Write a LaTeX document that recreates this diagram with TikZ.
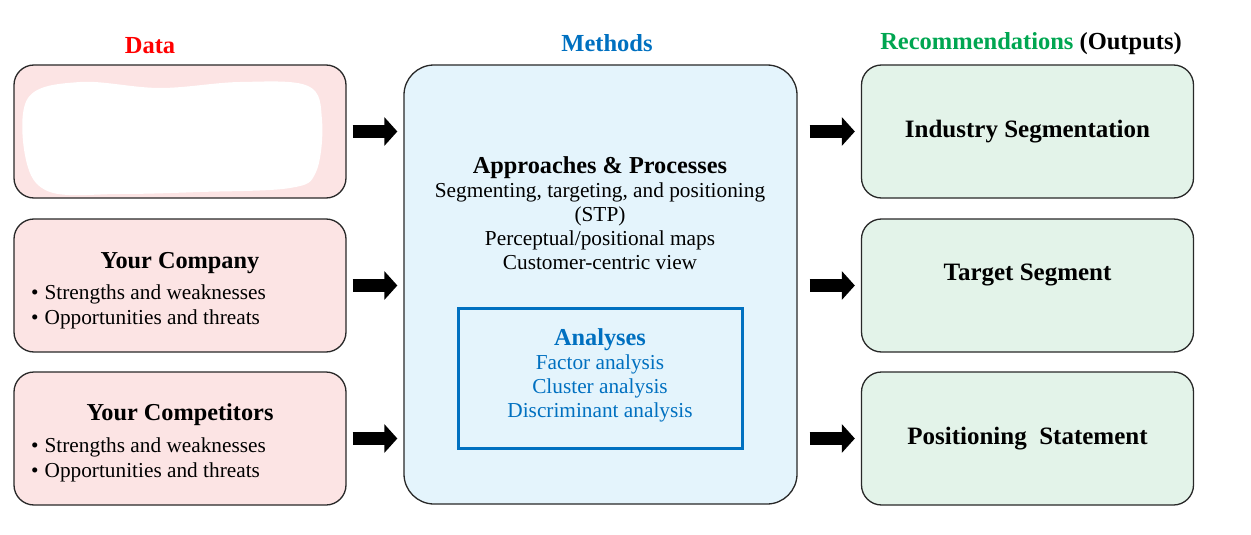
\documentclass[tikz,border=0pt]{standalone}
\usepackage{fontspec}
\setmainfont{Liberation Serif}
\usetikzlibrary{arrows.meta,calc}
\definecolor{pinkfill}{RGB}{252,228,228}
\definecolor{bluefill}{RGB}{228,244,252}
\definecolor{greenfill}{RGB}{227,243,233}
\definecolor{mblue}{RGB}{0,112,192}
\definecolor{dred}{RGB}{255,0,0}
\definecolor{rgreen}{RGB}{0,166,81}
\definecolor{edge}{RGB}{40,40,40}
\tikzset{
  box/.style={draw=edge, line width=1.3pt, rounded corners=20pt, minimum width=332pt, minimum height=133pt, inner sep=0pt},
  databox/.style={box, fill=pinkfill},
  outbox/.style={box, fill=greenfill},
  otxt/.style={inner sep=0pt, anchor=base, font=\fontsize{25}{28}\selectfont\bfseries},
  methbox/.style={draw=edge, line width=1.3pt, rounded corners=30pt, fill=bluefill, minimum width=393pt, minimum height=439pt, inner sep=0pt},
  anbox/.style={draw=mblue, line width=3pt, minimum width=284pt, minimum height=140pt, inner sep=0pt},
  txt/.style={inner sep=0pt, anchor=base, font=\fontsize{21.3}{24}\selectfont},
  ltxt/.style={txt, anchor=base west},
  ttl/.style={inner sep=0pt, anchor=base, font=\fontsize{24.3}{28}\selectfont\bfseries},
  hdr/.style={inner sep=0pt, anchor=base, font=\fontsize{24.5}{28}\selectfont\bfseries},
  bigarrow/.style={line width=13pt, -{Triangle[length=13pt,width=28pt]}},
}
\begin{document}
\begin{tikzpicture}[x=1pt,y=-1pt]
\useasboundingbox (0,0) rectangle (1251,535);
% headers
\node[hdr, text=dred] (hdata) at (150,54) {Data};
\node[hdr, text=mblue] (hmeth) at (607,52) {Methods};
\node[hdr] (hrec) at (1031,50) {\textcolor{rgreen}{Recommendations} (Outputs)};
% data boxes
\node[databox] (d1) at (180,131.5) {};
\node[databox] (d2) at (180,285.5) {};
\node[databox] (d3) at (180,438.5) {};
% redaction scribble
\fill[white] plot[smooth cycle, tension=0.6] coordinates {(28,98) (80,82) (160,88) (240,82) (308,86) (322,120) (316,172) (290,188) (200,192) (120,194) (50,192) (26,160)};
% data box texts
\node[ttl] (t2) at (180,268) {Your Company};
\node[ltxt] (b21) at (31,299.5) {•\hspace{6pt}Strengths and weaknesses};
\node[ltxt] (b22) at (31,324.5) {•\hspace{6pt}Opportunities and threats};
\node[ttl] (t3) at (180,420) {Your Competitors};
\node[ltxt] (b31) at (31,452.5) {•\hspace{6pt}Strengths and weaknesses};
\node[ltxt] (b32) at (31,477.5) {•\hspace{6pt}Opportunities and threats};
% methods
\node[methbox] (m) at (600.5,284.5) {};
\node[ttl] (ap) at (600,173) {Approaches \& Processes};
\node[txt] (ap1) at (600,197.5) {Segmenting, targeting, and positioning};
\node[txt] (ap2) at (600,221.5) {(STP)};
\node[txt] (ap3) at (600,245.5) {Perceptual/positional maps};
\node[txt] (ap4) at (600,269.5) {Customer-centric view};
\node[anbox] (an) at (600,378) {};
\node[ttl, text=mblue] (an0) at (600,345) {Analyses};
\node[txt, text=mblue] (an1) at (600,369.5) {Factor analysis};
\node[txt, text=mblue] (an2) at (600,393.5) {Cluster analysis};
\node[txt, text=mblue] (an3) at (600,417.5) {Discriminant analysis};
% outputs
\node[outbox] (o1) at (1027.5,131.5) {};
\node[outbox] (o2) at (1027.5,285.5) {};
\node[outbox] (o3) at (1027.5,438.5) {};
\node[otxt] (ot1) at (1027.5,137) {Industry Segmentation};
\node[otxt] (ot2) at (1027.5,280) {Target Segment};
\node[otxt] (ot3) at (1027.5,444) {Positioning\ \ Statement};
% arrows
\foreach \b in {d1,d2,d3}{
  \draw[bigarrow, shorten <=6pt, shorten >=6pt] (\b.east) -- (\b.east -| m.west);
}
\foreach \b in {o1,o2,o3}{
  \draw[bigarrow, shorten <=12pt, shorten >=6pt] (\b.west -| m.east) -- (\b.west);
}
\end{tikzpicture}
\end{document}
